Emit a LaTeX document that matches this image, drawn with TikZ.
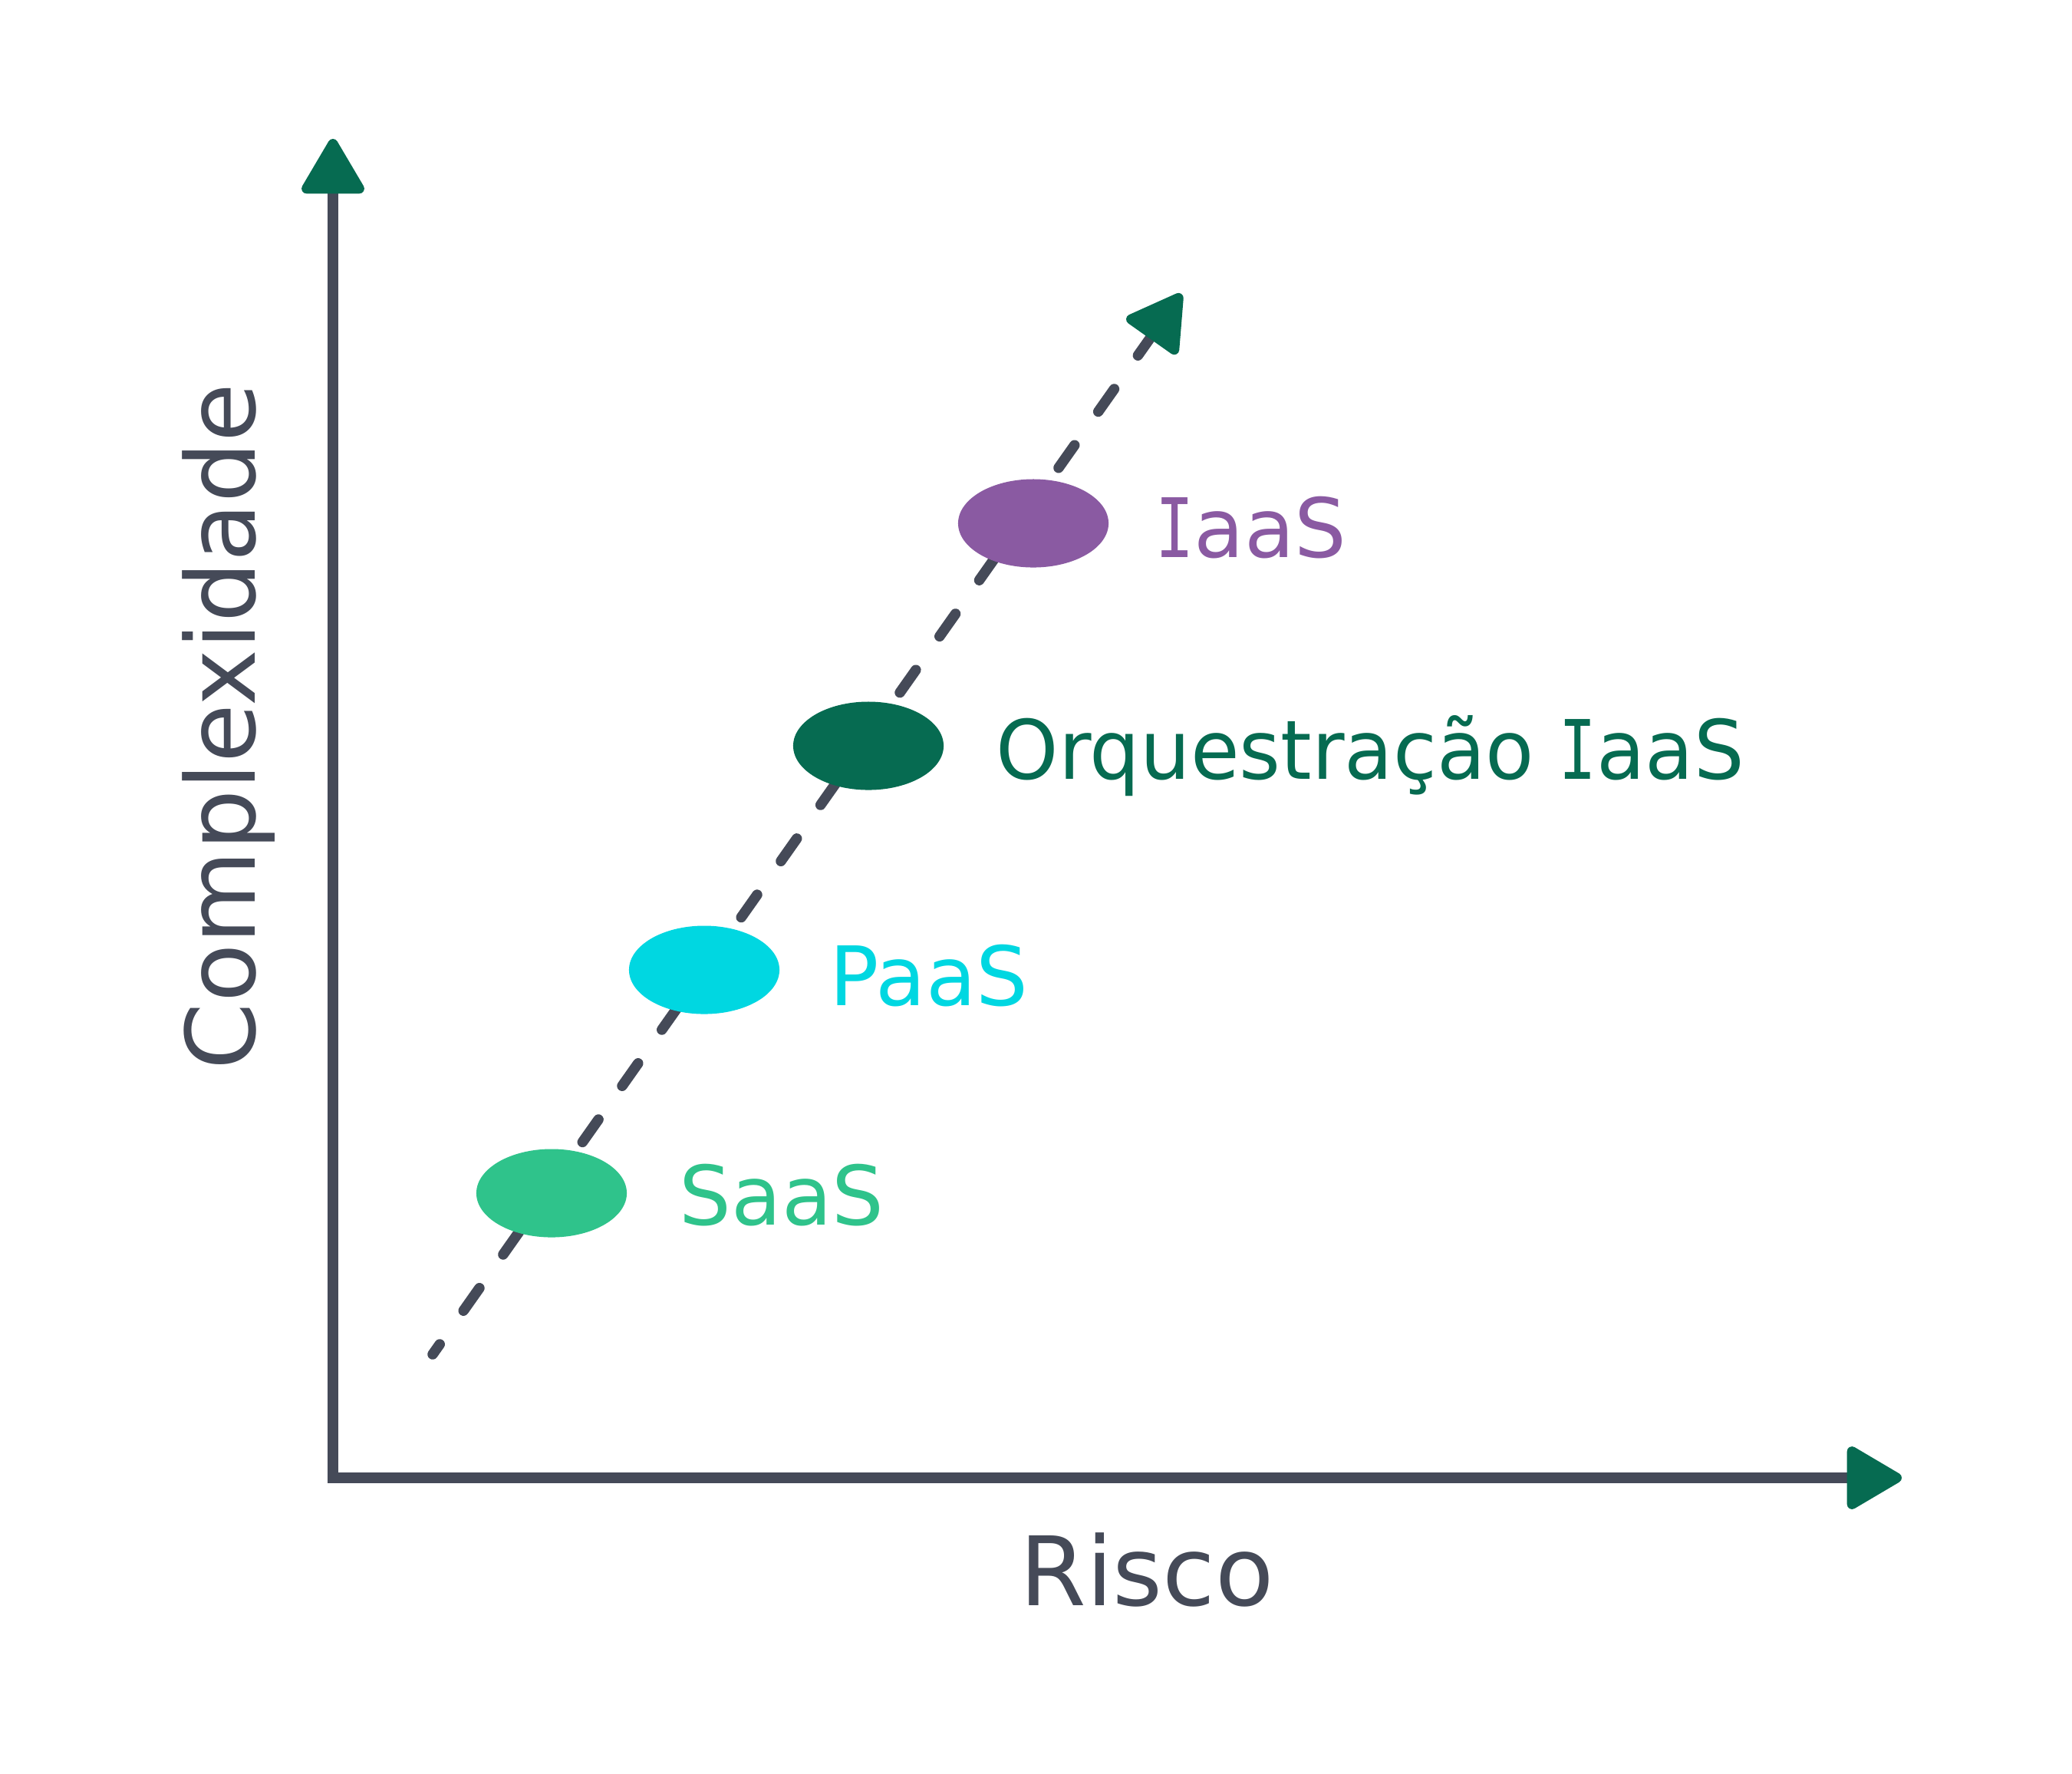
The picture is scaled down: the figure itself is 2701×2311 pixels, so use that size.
\documentclass[tikz,border=0pt]{standalone}
\usepackage{fontspec}
\setmainfont{DejaVu Sans}
\newfontfamily\monofam{DejaVu Sans Mono}
\newcommand{\slabI}{\scalebox{0.78}[1]{\monofam I}}
\usetikzlibrary{arrows.meta}
\definecolor{axisgray}{HTML}{454A58}
\definecolor{tipgreen}{HTML}{066B51}
\definecolor{saasgreen}{HTML}{2FC38B}
\definecolor{paascyan}{HTML}{00D7E1}
\definecolor{iaaspurple}{HTML}{8A5AA2}
\tikzset{
  bigtip/.tip={Triangle[length=0.78cm,width=0.88cm,line width=0.13cm,round,color=tipgreen,fill=tipgreen]},
  axisline/.style={draw=axisgray,line width=0.145cm,bigtip-bigtip},
  dashline/.style={draw=axisgray,line width=0.135cm,line cap=round,dash pattern=on 0.36cm off 0.536cm,dash phase=0.2cm,-bigtip},
  blob/.style={ellipse,minimum width=1.96cm,minimum height=1.15cm,inner sep=0pt,draw=none},
  lbl/.style={inner sep=0pt,anchor=base west,font=\fontsize{30.4pt}{36pt}\selectfont},
  axlbl/.style={inner sep=0pt,anchor=base,text=axisgray,font=\fontsize{35.5pt}{42pt}\selectfont}
}
\usetikzlibrary{shapes.geometric}
\begin{document}
\begin{tikzpicture}[x=0.01cm,y=-0.01cm]
\useasboundingbox[fill=white] (0,0) rectangle (2701,2311);
% axes
\coordinate (ytop) at (434,181);
\coordinate (origin) at (434,1926);
\coordinate (xend) at (2479,1926);
\draw[axisline] (ytop) -- (origin) -- (xend);
% dashed trend
\coordinate (ds) at (564,1765);
\coordinate (de) at (1540,383);
\draw[dashline] (ds) -- (de);
% ellipses
\node[blob,fill=saasgreen] (saas) at (719,1555) {};
\node[blob,fill=paascyan] (paas) at (918,1264) {};
\node[blob,fill=tipgreen] (orq) at (1132,972) {};
\node[blob,fill=iaaspurple] (iaas) at (1347,682) {};
% labels
\node[lbl,text=saasgreen] (saasl) at (885,1596) {SaaS};
\node[lbl,text=paascyan] (paasl) at (1081,1310) {PaaS};
\node[lbl,text=tipgreen] (orql) at (1298,1015) {\scalebox{0.968}[1]{Orquestração \slabI aaS}};
\node[lbl,text=iaaspurple] (iaasl) at (1506,726) {\slabI aaS};
% axis labels
\node[axlbl] (risco) at (1495,2092) {Risco};
\node[axlbl,rotate=90] (compl) at (332,947) {Complexidade};
\end{tikzpicture}
\end{document}
